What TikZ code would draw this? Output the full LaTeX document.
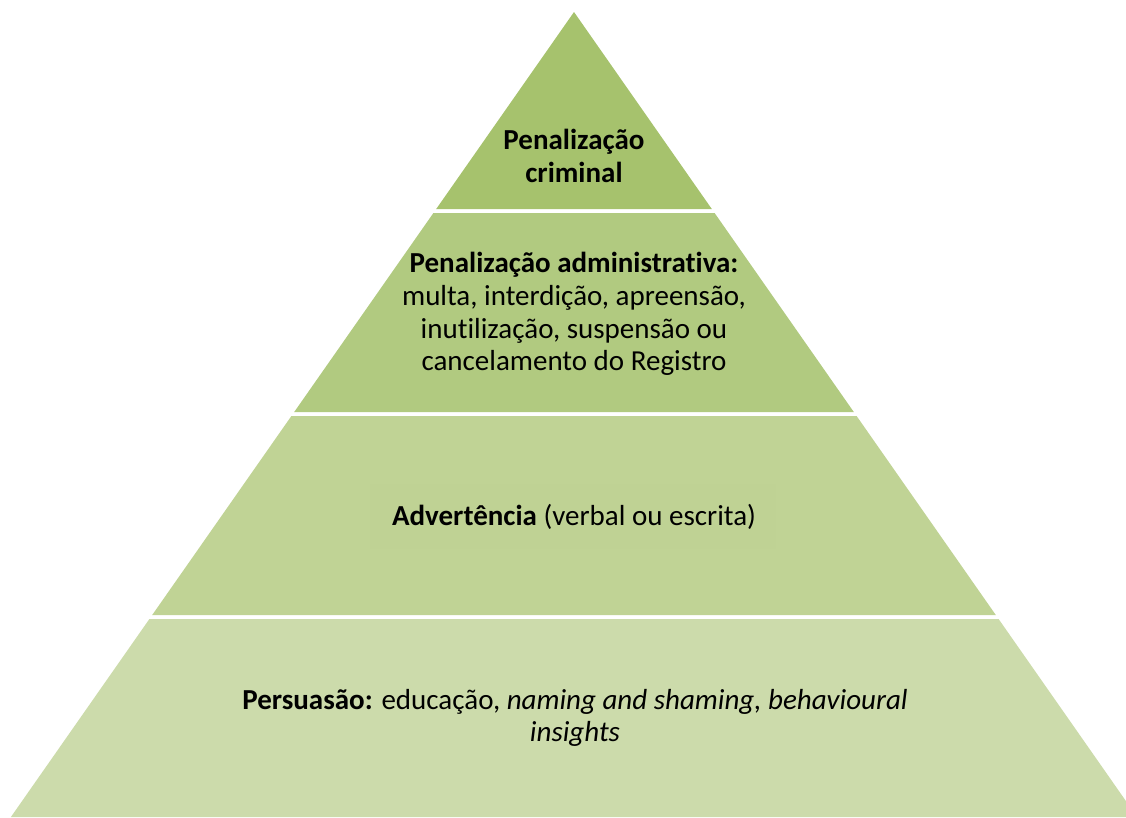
\documentclass[tikz,border=0pt]{standalone}
\usepackage{fontspec}
\setmainfont{Carlito}[Ligatures=NoCommon]
\definecolor{lay1}{HTML}{A6C26D}
\definecolor{lay2}{HTML}{B1CA80}
\definecolor{lay3}{HTML}{C0D395}
\definecolor{lay3box}{HTML}{BFD294}
\definecolor{lay4}{HTML}{CCDBAB}
\begin{document}
\begin{tikzpicture}[x=1pt,y=-1pt,
  lbl/.style={align=center,text=black,font=\fontsize{29}{32.8}\selectfont,inner sep=0pt}]
\useasboundingbox (0,0) rectangle (1126,817);
\begin{scope}
\clip (0,0) rectangle (1126,817);
\fill[lay1] (574,12) -- (711.8,209) -- (436.2,209) -- cycle;
\fill[lay2] (433.4,213) -- (714.6,213) -- (853.8,412) -- (294.2,412) -- cycle;
\fill[lay3] (291.4,416) -- (856.6,416) -- (995.8,615) -- (152.2,615) -- cycle;
\fill[lay4] (149.4,619) -- (998.6,619) -- (1137.1,817) -- (10.9,817) -- cycle;
\end{scope}
\fill[lay3box] (370,484) rectangle (776,549);
\node[lbl] (t1) at (574,156) {\textbf{Penalização}\\\textbf{criminal}};
\node[lbl] (t2) at (574,314) {\textbf{Penalização administrativa:}\\multa, interdição, apreensão,\\inutilização, suspensão ou\\cancelamento do Registro};
\node[lbl] (t3) at (574,517) {\textbf{Advertência} (verbal ou escrita)};
\node[lbl] (t4) at (575,718) {\textbf{Persuasão:} educação, \textit{naming and shaming, behavioural}\\\textit{insights}};
\end{tikzpicture}
\end{document}
